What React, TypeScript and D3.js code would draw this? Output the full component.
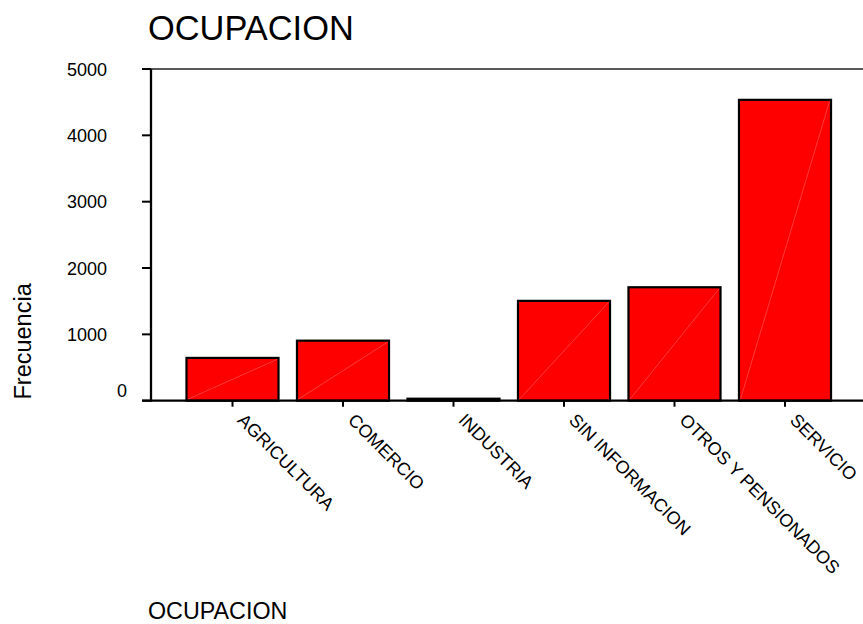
import React from "react";
import * as d3 from "d3";

const categories: string[] = [
  "AGRICULTURA",
  "COMERCIO",
  "INDUSTRIA",
  "SIN INFORMACION",
  "OTROS Y PENSIONADOS",
  "SERVICIO",
];
const frecuencias: number[] = [645, 905, 30, 1505, 1710, 4535];
const yTicks: number[] = [0, 1000, 2000, 3000, 4000, 5000];
const chartTitle = "OCUPACION";
const xTitle = "OCUPACION";
const yTitle = "Frecuencia";

const W = 863;
const H = 624;
const FONT = "'Liberation Sans', Arial, Helvetica, sans-serif";

export default function App() {
  const axisX = 151;
  const axisY = 400.7;
  const topY = 69;
  const x = d3
    .scaleBand<string>()
    .domain(categories)
    .range([177.25, 840.25])
    .paddingInner(0.167)
    .paddingOuter(0.0835);
  const y = d3.scaleLinear().domain([0, 5000]).range([axisY, topY]);

  return (
    <div style={{ position: "fixed", left: 0, top: 0, width: W, height: H, background: "#fff" }}>
      <svg width={W} height={H} style={{ display: "block" }} fontFamily={FONT}>
        <rect x={0} y={0} width={W} height={H} fill="#fff" />
        {/* title */}
        <text x={148} y={39.5} fontSize={34.4} fill="#000">
          {chartTitle}
        </text>

        {/* bars */}
        {categories.map((c, i) => {
          const bx = x(c)!;
          const bw = x.bandwidth();
          const by = y(frecuencias[i]);
          const bh = axisY - by;
          return (
            <g key={c}>
              <rect x={bx} y={by} width={bw} height={bh} fill="#ff0000" stroke="#000" strokeWidth={2.2} />
              {bh > 6 && (
                <line
                  x1={bx + 1.5}
                  y1={axisY - 1.5}
                  x2={bx + bw - 1.5}
                  y2={by + 1.5}
                  stroke="#ff7a7a"
                  strokeWidth={0.6}
                  opacity={0.8}
                />
              )}
            </g>
          );
        })}

        {/* top line */}
        <line x1={axisX - 9} y1={topY} x2={W} y2={topY} stroke="#222" strokeWidth={1.4} />
        {/* left axis */}
        <line x1={axisX} y1={topY} x2={axisX} y2={axisY + 1} stroke="#000" strokeWidth={2.3} />
        {/* bottom axis */}
        <line x1={axisX - 9} y1={axisY} x2={W} y2={axisY} stroke="#000" strokeWidth={2.3} />

        {/* y ticks */}
        {yTicks.map((t) => (
          <g key={t}>
            <line x1={axisX - 9} y1={y(t)} x2={axisX} y2={y(t)} stroke="#000" strokeWidth={2} />
            <text
              x={t === 0 ? 127 : 107}
              y={t === 0 ? 397.3 : y(t) + 6.6}
              fontSize={18}
              textAnchor="end"
              fill="#000"
            >
              {t}
            </text>
          </g>
        ))}

        {/* x ticks */}
        {categories.map((c) => {
          const cx = x(c)! + x.bandwidth() / 2;
          return (
            <g key={c}>
              <line x1={cx} y1={axisY} x2={cx} y2={axisY + 6} stroke="#000" strokeWidth={2} />
              <text
                transform={`translate(${cx + 4},${axisY + 20.5}) rotate(45)`}
                fontSize={18}
                textAnchor="start"
                fill="#000"
              >
                {c}
              </text>
            </g>
          );
        })}

        {/* y title */}
        <text
          transform={`translate(30.7,341.4) rotate(-90)`}
          fontSize={23.5}
          textAnchor="middle"
          fill="#000"
        >
          {yTitle}
        </text>

        {/* x title */}
        <text x={148} y={619} fontSize={23.3} fill="#000">
          {xTitle}
        </text>
      </svg>
    </div>
  );
}
